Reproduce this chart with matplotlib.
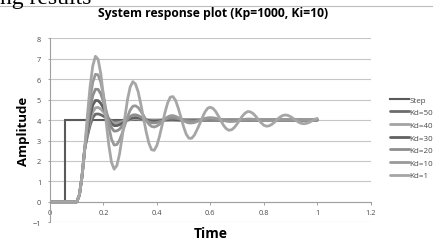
import matplotlib
matplotlib.use("Agg")
from matplotlib import pyplot as plt
from matplotlib.lines import Line2D

plt.rcParams["font.family"] = ["Open Sans", "DejaVu Sans"]

# sample times shared by the Kd responses (s)
time = [0.0,
        0.10, 0.11, 0.12, 0.13, 0.14, 0.15, 0.16, 0.17, 0.18, 0.19,
        0.20, 0.21, 0.22, 0.23, 0.24, 0.25, 0.26, 0.27, 0.28, 0.29,
        0.30, 0.31, 0.32, 0.33, 0.34, 0.35, 0.36, 0.37, 0.38, 0.39,
        0.40, 0.41, 0.42, 0.43, 0.44, 0.45, 0.46, 0.47, 0.48, 0.49,
        0.50, 0.51, 0.52, 0.53, 0.54, 0.55, 0.56, 0.57, 0.58, 0.59,
        0.60, 0.61, 0.62, 0.63, 0.64, 0.65, 0.66, 0.67, 0.68, 0.69,
        0.70, 0.71, 0.72, 0.73, 0.74, 0.75, 0.76, 0.77, 0.78, 0.79,
        0.80, 0.81, 0.82, 0.83, 0.84, 0.85, 0.86, 0.87, 0.88, 0.89,
        0.90, 0.91, 0.92, 0.93, 0.94, 0.95, 0.96, 0.97, 0.98, 0.99,
        1.00]

step_time = [0.0, 0.055, 0.055, 1.0]
step_value = [0, 0, 4, 4]

end_time = 1.0
settled = 4.0

# responses (values until each curve settles)
kd1 = [0,
       0, 0.33, 1.27, 2.6, 4.23, 5.64, 6.65, 7.12, 6.97, 6.27,
       5.18, 3.94, 2.78, 1.94, 1.60, 1.77, 2.33, 3.17, 4.12, 5.0,
       5.62, 5.88, 5.76, 5.38, 4.77, 4.09, 3.42, 2.87, 2.55, 2.52,
       2.76, 3.22, 3.78, 4.36, 4.83, 5.12, 5.15, 4.96, 4.58, 4.13,
       3.67, 3.30, 3.11, 3.11, 3.26, 3.52, 3.81, 4.12, 4.40, 4.58,
       4.63, 4.57, 4.42, 4.20, 3.96, 3.73, 3.57, 3.50, 3.53, 3.64,
       3.81, 4.01, 4.20, 4.34, 4.42, 4.40, 4.32, 4.18, 4.02, 3.87,
       3.75, 3.70, 3.72, 3.79, 3.90, 4.03, 4.14, 4.22, 4.25, 4.23,
       4.17, 4.08, 3.99, 3.90, 3.84, 3.82, 3.84, 3.89, 3.96, 4.04,
       4.08]
kd10 = [0,
        0, 0.33, 1.27, 2.6, 3.91, 5.04, 5.85, 6.24, 6.21, 5.85,
        5.21, 4.43, 3.67, 3.07, 2.78, 2.80, 3.01, 3.35, 3.76, 4.16,
        4.49, 4.68, 4.70, 4.61, 4.43, 4.22, 3.99, 3.80, 3.69, 3.66,
        3.71, 3.80, 3.92, 4.05, 4.15, 4.21, 4.22, 4.18, 4.12, 4.04,
        3.96, 3.90, 3.86, 3.86, 3.88, 3.93, 3.98, 4.03, 4.08, 4.11,
        4.12, 4.11, 4.09, 4.05, 4.02, 3.98, 3.95, 3.93, 3.93, 3.94,
        3.96, 3.99, 4.02, 4.04, 4.05, 4.05, 4.04, 4.03, 4.01, 3.99,
        3.98, 3.97, 3.97, 3.98, 3.99, 4.00, 4.01, 4.02, 4.02, 4.02,
        4.01]
kd20 = [0,
        0, 0.33, 1.27, 2.6, 3.65, 4.55, 5.20, 5.51, 5.50, 5.29,
        4.90, 4.44, 3.99, 3.63, 3.46, 3.47, 3.55, 3.70, 3.86, 4.03,
        4.17, 4.25, 4.26, 4.22, 4.15, 4.07, 3.99, 3.91, 3.87, 3.86,
        3.88, 3.92, 3.97, 4.02, 4.07, 4.10, 4.10, 4.09, 4.07, 4.04,
        4.01, 3.98, 3.97, 3.96, 3.96, 3.97, 3.99, 4.01, 4.02, 4.03,
        4.03, 4.03, 4.02, 4.01, 4.00]
kd30 = [0,
        0, 0.33, 1.27, 2.6, 3.46, 4.20, 4.73, 4.96, 4.95, 4.82,
        4.59, 4.32, 4.04, 3.83, 3.73, 3.73, 3.77, 3.84, 3.92, 4.01,
        4.07, 4.11, 4.12, 4.11, 4.08, 4.05, 4.01, 3.98, 3.96, 3.95,
        3.96, 3.97, 3.99, 4.01, 4.02, 4.03, 4.03, 4.02, 4.01, 4.00]
kd40 = [0,
        0, 0.33, 1.27, 2.6, 3.33, 3.95, 4.40, 4.60, 4.62, 4.54,
        4.40, 4.22, 4.05, 3.92, 3.85, 3.86, 3.88, 3.92, 3.97, 4.01,
        4.04, 4.06, 4.07, 4.06, 4.05, 4.03, 4.01, 3.99, 3.98, 3.98,
        3.98, 3.99, 4.00]
kd50 = [0,
        0, 0.33, 1.27, 2.6, 3.21, 3.74, 4.12, 4.29, 4.30, 4.26,
        4.19, 4.11, 4.03, 3.98, 3.94, 3.93, 3.94, 3.96, 3.98, 4.00,
        4.02, 4.03, 4.03, 4.03, 4.02, 4.01, 4.00]

series = [("Kd=50", kd50, "#6c6c6c"),
          ("Kd=40", kd40, "#a4a4a4"),
          ("Kd=30", kd30, "#616161"),
          ("Kd=20", kd20, "#8e8e8e"),
          ("Kd=10", kd10, "#999999"),
          ("Kd=1", kd1, "#a6a6a6")]

x_ticks = [0, 0.2, 0.4, 0.6, 0.8, 1.0, 1.2]
x_labels = ["0", "0.2", "0.4", "0.6", "0.8", "1", "1.2"]
y_ticks = [-1, 0, 1, 2, 3, 4, 5, 6, 7, 8]

W, H = 433, 251
fig = plt.figure(figsize=(W / 100, H / 100), dpi=100)
ax = fig.add_axes([50 / W, 1 - 223.3 / H, 320.7 / W, 184 / H])

handles = []
h, = ax.plot(step_time, step_value, color="#5a5a5a", lw=1.5,
             label="Step", solid_joinstyle="miter")
handles.append(h)
for name, vals, col in series:
    n = len(vals)
    xs = time[:n]
    ys = list(vals)
    if n < len(time):
        xs = xs + [end_time]
        ys = ys + [settled]
    h, = ax.plot(xs, ys, color=col, lw=2.0, label=name,
                 solid_capstyle="round")
    handles.append(h)

ax.set_xlim(0, 1.2)
ax.set_ylim(-1, 8)
ax.set_xticks(x_ticks)
ax.set_xticklabels(x_labels)
ax.set_yticks(y_ticks)
ax.yaxis.grid(True, color="#c6c6c6", lw=0.8)
ax.set_axisbelow(True)

for side in ("top", "right"):
    ax.spines[side].set_visible(False)
ax.spines["bottom"].set_position(("data", 0))
ax.spines["bottom"].set_color("#a0a0a0")
ax.spines["left"].set_color("#a0a0a0")
ax.tick_params(axis="x", direction="out", length=2.2, width=0.7,
               color="#a0a0a0", labelsize=5.3, labelcolor="#4a4a4a", pad=2.8)
ax.tick_params(axis="y", direction="out", length=1.4, width=0.7,
               color="#a0a0a0", labelsize=5.3, labelcolor="#4a4a4a", pad=5)

fig.text(213 / W, 1 - 14 / H, "System response plot (Kp=1000, Ki=10)",
         ha="center", va="center", fontsize=8.7, fontweight="bold")
fig.text(23 / W, 1 - 131 / H, "Amplitude", rotation=90, ha="center",
         va="center", fontsize=9.5, fontweight="bold")
fig.text(211 / W, 1 - 234 / H, "Time", ha="center", va="center",
         fontsize=10, fontweight="bold")

leg = ax.legend(handles=handles, loc="upper left",
                bbox_to_anchor=(390 / W, 1 - 97 / H),
                bbox_transform=fig.transFigure, frameon=False,
                fontsize=5.8, handlelength=2.3, handletextpad=0.15,
                labelspacing=0.62, borderpad=0, borderaxespad=0)
for t in leg.get_texts():
    t.set_color("#4a4a4a")

# piece of the surrounding document page
fig.text(0, 1 - 4 / H, "ng results", family="Liberation Serif",
         fontsize=17, va="baseline", ha="left")
fig.add_artist(Line2D([0, 1], [1 - 7 / H, 1 - 7 / H],
                      transform=fig.transFigure, color="#bdbdbd", lw=0.8))

fig.savefig("out.png", dpi=100)
